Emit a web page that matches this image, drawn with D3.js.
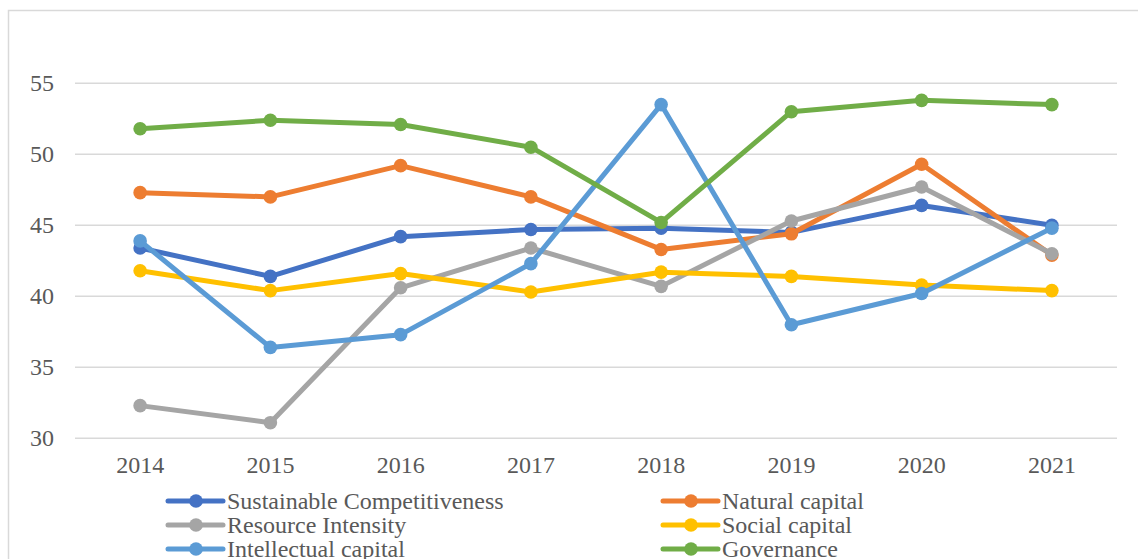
<!DOCTYPE html>
<html>
<head>
<meta charset="utf-8">
<script src="https://cdn.jsdelivr.net/npm/d3@7"></script>
<style>
  html, body { margin: 0; padding: 0; background: #fff; }
  svg { display: block; }
</style>
</head>
<body>
<svg id="chart" width="1138" height="559"></svg>
<script>
// Years on the category axis
const years = ["2014", "2015", "2016", "2017", "2018", "2019", "2020", "2021"];

// Index values per dimension
const sustainableCompetitiveness = [43.4, 41.4, 44.2, 44.7, 44.8, 44.5, 46.4, 45.0];
const naturalCapital            = [47.3, 47.0, 49.2, 47.0, 43.3, 44.4, 49.3, 42.9];
const resourceIntensity         = [32.3, 31.1, 40.6, 43.4, 40.7, 45.3, 47.7, 43.0];
const socialCapital             = [41.8, 40.4, 41.6, 40.3, 41.7, 41.4, 40.8, 40.4];
const intellectualCapital       = [43.9, 36.4, 37.3, 42.3, 53.5, 38.0, 40.2, 44.8];
const governance                = [51.8, 52.4, 52.1, 50.5, 45.2, 53.0, 53.8, 53.5];

// Y-axis tick labels
const yTicks = [30, 35, 40, 45, 50, 55];

const seriesNames = [
  "Sustainable Competitiveness", "Natural capital",
  "Resource Intensity", "Social capital",
  "Intellectual capital", "Governance"
];
const seriesValues = [
  sustainableCompetitiveness, naturalCapital,
  resourceIntensity, socialCapital,
  intellectualCapital, governance
];
const seriesColors = ["#4472C4", "#ED7D31", "#A5A5A5", "#FFC000", "#5B9BD5", "#70AD47"];

const FONT = "'Liberation Serif', 'Times New Roman', 'DejaVu Serif', serif";
const TEXT_COLOR = "#595959";

const svg = d3.select("#chart");

// Outer chart frame
svg.append("rect")
  .attr("x", 8.5).attr("y", 10.5)
  .attr("width", 1200).attr("height", 600)
  .attr("fill", "none").attr("stroke", "#d9d9d9").attr("stroke-width", 1.5);

const plotLeft = 75, plotRight = 1117;

const x = d3.scaleBand().domain(years).range([plotLeft, plotRight]).padding(0);
const y = d3.scaleLinear().domain([30, 60]).range([438.3, 12.3]);
const cx = d => x(d) + x.bandwidth() / 2;

// Horizontal gridlines
svg.append("g").selectAll("line")
  .data(yTicks)
  .join("line")
  .attr("x1", plotLeft).attr("x2", plotRight)
  .attr("y1", d => y(d)).attr("y2", d => y(d))
  .attr("stroke", "#d9d9d9").attr("stroke-width", 1.5);

// Y-axis labels
svg.append("g").selectAll("text")
  .data(yTicks)
  .join("text")
  .attr("x", 54).attr("y", d => y(d))
  .attr("dy", "0.33em")
  .attr("text-anchor", "end")
  .attr("font-family", FONT)
  .attr("fill", TEXT_COLOR)
  .attr("font-size", 24)
  .text(d => d);

// X-axis labels
svg.append("g").selectAll("text")
  .data(years)
  .join("text")
  .attr("x", d => cx(d)).attr("y", 473)
  .attr("text-anchor", "middle")
  .attr("font-family", FONT)
  .attr("fill", TEXT_COLOR)
  .attr("font-size", 24)
  .text(d => d);

// Lines and markers
const line = d3.line().x((d, i) => cx(years[i])).y(d => y(d));
const seriesG = svg.append("g");
seriesValues.forEach((vals, k) => {
  const g = seriesG.append("g");
  g.append("path")
    .attr("d", line(vals))
    .attr("fill", "none")
    .attr("stroke", seriesColors[k])
    .attr("stroke-width", 5)
    .attr("stroke-linejoin", "round")
    .attr("stroke-linecap", "round");
  g.selectAll("circle")
    .data(vals)
    .join("circle")
    .attr("cx", (d, i) => cx(years[i]))
    .attr("cy", d => y(d))
    .attr("r", 6.8)
    .attr("fill", seriesColors[k]);
});

// Legend: two columns, three rows
const legendCols = [168, 663];
const legendRows = [501, 525, 549];
const legend = svg.append("g");
seriesNames.forEach((name, k) => {
  const lx = legendCols[k % 2];
  const ly = legendRows[Math.floor(k / 2)];
  const item = legend.append("g");
  item.append("line")
    .attr("x1", lx).attr("x2", lx + 55)
    .attr("y1", ly).attr("y2", ly)
    .attr("stroke", seriesColors[k]).attr("stroke-width", 5)
    .attr("stroke-linecap", "round");
  item.append("circle")
    .attr("cx", lx + 28).attr("cy", ly).attr("r", 6.8)
    .attr("fill", seriesColors[k]);
  item.append("text")
    .attr("x", lx + 59).attr("y", ly)
    .attr("dy", "0.33em")
    .attr("font-family", FONT)
    .attr("fill", TEXT_COLOR)
    .attr("font-size", 24)
    .text(name);
});
</script>
</body>
</html>
